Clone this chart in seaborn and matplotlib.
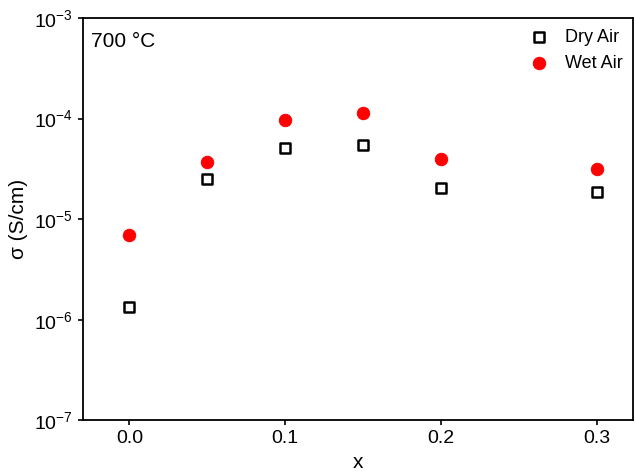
import matplotlib
matplotlib.use("Agg")
import matplotlib.pyplot as plt
import seaborn as sns
import pandas as pd

# data
x_vals = [0.0, 0.05, 0.1, 0.15, 0.2, 0.3]
dry_air = [1.35e-6, 2.5e-5, 5.1e-5, 5.5e-5, 2.05e-5, 1.85e-5]
wet_air = [6.9e-6, 3.7e-5, 9.7e-5, 1.15e-4, 4.0e-5, 3.15e-5]

df = pd.DataFrame({"x": x_vals * 2,
                   "sigma": dry_air + wet_air,
                   "atm": ["Dry Air"] * 6 + ["Wet Air"] * 6})

sns.set_style("ticks")
plt.rcParams["font.family"] = ["Arial", "Liberation Sans", "DejaVu Sans"]
plt.rcParams.update({"text.color": "black", "axes.labelcolor": "black",
                     "xtick.color": "black", "ytick.color": "black",
                     "axes.edgecolor": "black"})

fig, ax = plt.subplots(figsize=(6.35, 4.74), dpi=100)
fig.subplots_adjust(left=0.13, right=0.997, top=0.962, bottom=0.113)

sns.scatterplot(data=df[df.atm == "Dry Air"], x="x", y="sigma", ax=ax,
                marker="s", s=55, facecolor="none", edgecolor="black",
                linewidth=1.8, label="Dry Air")
sns.scatterplot(data=df[df.atm == "Wet Air"], x="x", y="sigma", ax=ax,
                marker="o", s=80, color="red", edgecolor="red", label="Wet Air")

ax.set_yscale("log")
ax.set_ylim(1e-7, 1e-3)
ax.set_xlim(-0.03, 0.323)
ax.set_xticks([0.0, 0.1, 0.2, 0.3])
ax.set_xlabel("x", fontsize=15)
ax.set_ylabel("σ (S/cm)", fontsize=15)
ax.tick_params(labelsize=14, width=1.2)
ax.minorticks_off()
for sp in ax.spines.values():
    sp.set_linewidth(1.3)
ax.text(0.015, 0.965, "700 °C", transform=ax.transAxes, fontsize=15,
        va="top", ha="left")
ax.legend(loc="upper right", frameon=False, fontsize=13,
          handletextpad=0.4, borderaxespad=0.2)

fig.savefig("out.png")
